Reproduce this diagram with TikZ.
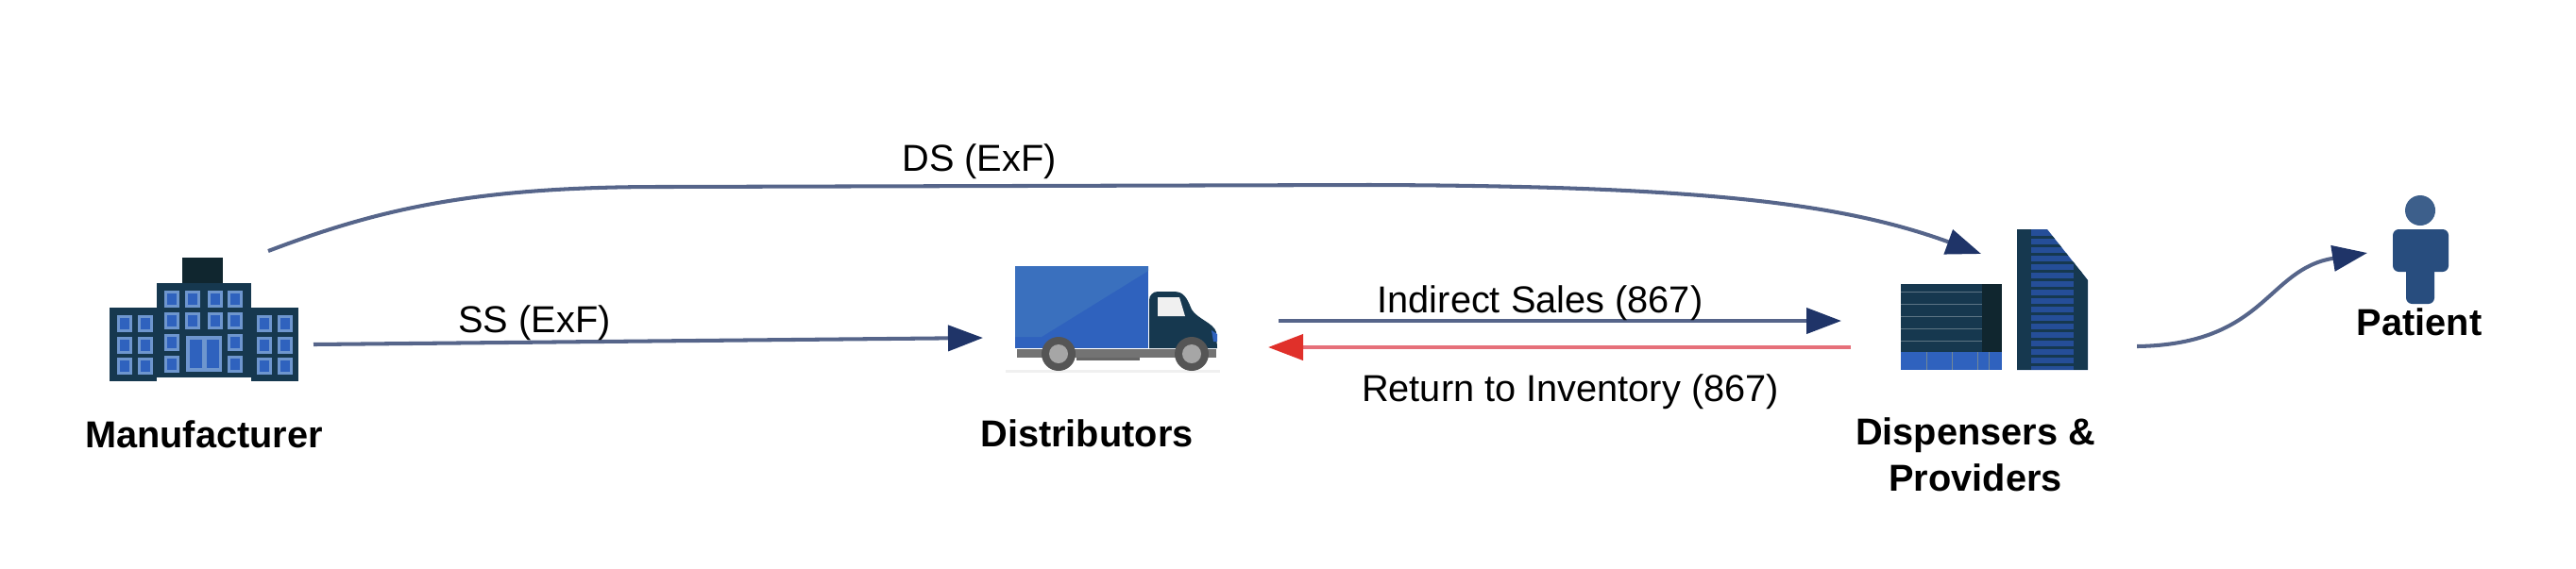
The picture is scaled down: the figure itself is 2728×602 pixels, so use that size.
\documentclass[tikz,border=0pt]{standalone}
\usepackage{fontspec}
\setmainfont{Liberation Sans}
\usetikzlibrary{arrows.meta}
\definecolor{flowblue}{HTML}{56658A}
\definecolor{headblue}{HTML}{1F3468}
\definecolor{flowred}{HTML}{E6707A}
\definecolor{headred}{HTML}{E0302A}
\definecolor{iconnavy}{HTML}{16384F}
\definecolor{icondark}{HTML}{10262F}
\definecolor{iconblue}{HTML}{2F62BE}
\definecolor{paleblue}{HTML}{6E96CE}
\definecolor{boxlight}{HTML}{3A70BE}
\definecolor{wheelgrey}{HTML}{555555}
\definecolor{patientblue}{HTML}{284D7E}
\tikzset{
  flow/.style={draw=flowblue, line width=1.15pt, -{Triangle[length=3.7mm,width=2.7mm,fill=headblue,color=headblue]}},
  back/.style={draw=flowred, line width=1.15pt, -{Triangle[length=3.7mm,width=2.7mm,fill=headred,color=headred]}},
  actor/.style={font=\bfseries\fontsize{11.3}{14}\selectfont, align=center, text=black},
  flowlabel/.style={font=\fontsize{11.3}{14}\selectfont, text=black}
}
\begin{document}
\begin{tikzpicture}[x=0.01cm,y=-0.01cm]
    \useasboundingbox (0,0) rectangle (2728,602);
    \def\wincell(#1,#2){
      \fill[paleblue] (#1-8,#2-9) rectangle (#1+8,#2+9);
      \fill[iconblue] (#1-5,#2-6) rectangle (#1+5,#2+6);
    }

    % manufacturer
    \fill[icondark] (193,273) rectangle (236,300);
    \fill[iconnavy] (166,300) rectangle (266,400);
    \fill[iconnavy] (116,326) rectangle (166,404);
    \fill[iconnavy] (266,326) rectangle (316,404);
    \foreach \wx in {132,154,280,302} {
      \foreach \wy in {343,366,388} {
        \wincell(\wx,\wy)
      }
    }
    \foreach \wx in {182,204,228,249} {
      \foreach \wy in {317,340} {
        \wincell(\wx,\wy)
      }
    }
    \foreach \wx in {182,249} {
      \foreach \wy in {363,386} {
        \wincell(\wx,\wy)
      }
    }
    \fill[paleblue] (197,356) rectangle (235,394);
    \fill[iconblue] (201,360) rectangle (214,390);
    \fill[iconblue] (219,360) rectangle (232,390);

    % truck
    \fill[black!6] (1065,392) rectangle (1292,395);
    \fill[iconblue] (1075,282) rectangle (1216,369);
    \fill[boxlight] (1075,282) -- (1216,282) -- (1216,287) -- (1103,357) -- (1075,357) -- cycle;
    \fill[iconnavy] (1217,369) -- (1217,318) arc (180:270:9) -- (1243,309)
      .. controls (1254,309) and (1257,316) .. (1262,328)
      .. controls (1268,338) and (1285,342) .. (1288,352) -- (1289,369) -- cycle;
    \fill[black!6] (1226,315) -- (1249,315) -- (1255,335) -- (1226,335) -- cycle;
    \fill[iconblue] (1283,350) -- (1289,354) -- (1289,362) -- (1285,362) -- cycle;
    \fill[black!55] (1077,370) rectangle (1288,379);
    \fill[black!60] (1140,379) rectangle (1207,382);
    \foreach \wx in {1121,1262} {
      \fill[wheelgrey] (\wx,375) circle (18);
      \fill[black!35] (\wx,375) circle (10);
    }

    % dispensers
    \fill[iconnavy] (2013,301) rectangle (2120,373);
    \fill[icondark] (2099,301) rectangle (2120,373);
    \foreach \ry in {309,322,...,369} {
      \draw[iconnavy!70!white, line width=0.25pt] (2013,\ry) -- (2099,\ry);
    }
    \fill[iconblue] (2013,373) rectangle (2120,392);
    \foreach \rx in {2040,2067,2094,2106} {
      \draw[iconnavy!60, line width=0.3pt] (\rx,373) -- (\rx,392);
    }
    \fill[iconblue!80!black] (2136,243) -- (2168,243) -- (2211,297) -- (2211,392) -- (2136,392) -- cycle;
    \begin{scope}
      \clip (2136,243) -- (2168,243) -- (2211,297) -- (2211,392) -- (2136,392) -- cycle;
      \fill[iconnavy] (2136,243) rectangle (2151,392);
      \fill[iconnavy] (2196,243) rectangle (2211,392);
      \foreach \ry in {250,259,...,392} {
        \fill[iconnavy] (2136,\ry) rectangle (2211,\ry+3);
      }
    \end{scope}

    % patient
    \fill[patientblue!90!white] (2563,223) circle (16);
    \fill[patientblue, rounded corners=1.8pt] (2534,243) rectangle (2593,288);
    \fill[patientblue, rounded corners=1.8pt] (2548,270) rectangle (2578,322);

    \node[actor] (manufacturerLabel) at (216,460) {Manufacturer};
    \node[actor] (distributorsLabel) at (1151,459) {Distributors};
    \node[actor] (dispensersLabel) at (2092,482) {Dispensers \&\\Providers};
    \node[actor] (patientLabel) at (2562,341) {Patient};

    \coordinate (dsStart) at (284,266);
    \coordinate (dsTop) at (700,198);
    \coordinate (dsMid) at (1450,196);
    \coordinate (dsEnd) at (2098,269);
    \coordinate (ssStart) at (332,365);
    \coordinate (ssEnd) at (1041,358);
    \coordinate (salesStart) at (1354,340);
    \coordinate (salesEnd) at (1950,340);
    \coordinate (returnStart) at (1960,368);
    \coordinate (returnEnd) at (1343,368);
    \coordinate (patientStart) at (2263,367);
    \coordinate (patientEnd) at (2507,268);

    \draw[flow] (dsStart) .. controls (400,222) and (500,198) .. (dsTop)
      -- (dsMid) .. controls (1800,197) and (1950,215) .. (dsEnd);
    \draw[flow] (ssStart) -- (ssEnd);
    \draw[flow] (salesStart) -- (salesEnd);
    \draw[back] (returnStart) -- (returnEnd);
    \draw[flow] (patientStart) .. controls (2400,365) and (2400,285) .. (patientEnd);

    \node[flowlabel] (dsLabel) at (1037,171) {DS (ExF)};
    \node[flowlabel] (ssLabel) at (566,342) {SS (ExF)};
    \node[flowlabel] (salesLabel) at (1631,321) {Indirect Sales (867)};
    \node[flowlabel] (returnLabel) at (1663,415) {Return to Inventory (867)};
\end{tikzpicture}
\end{document}
